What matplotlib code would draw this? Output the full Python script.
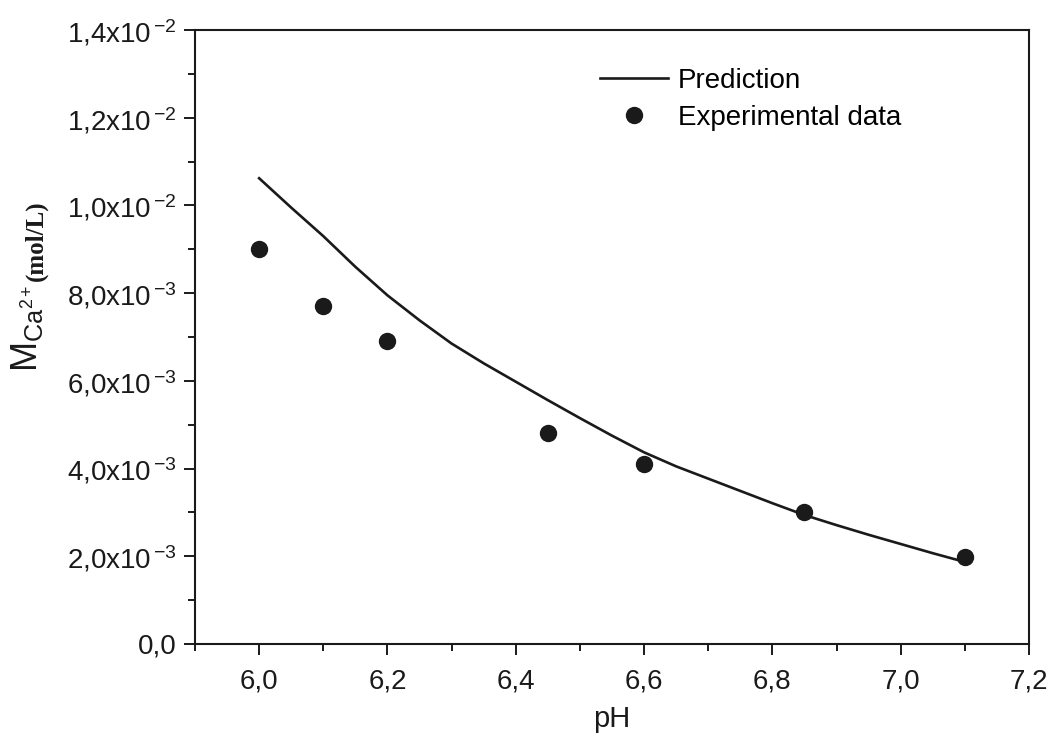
import matplotlib
matplotlib.use("Agg")
import matplotlib.pyplot as plt
from matplotlib.ticker import MultipleLocator, FixedLocator, FixedFormatter

plt.rcParams['font.family'] = ['Liberation Sans', 'DejaVu Sans']
plt.rcParams['mathtext.fontset'] = 'custom'
plt.rcParams['mathtext.rm'] = 'Liberation Serif'
plt.rcParams['mathtext.sf'] = 'Liberation Sans'
plt.rcParams['mathtext.it'] = 'Liberation Sans:italic'

# Prediction curve
pred_ph = [6.0, 6.05, 6.1, 6.15, 6.2, 6.25, 6.3, 6.35, 6.4, 6.45, 6.5, 6.55,
           6.6, 6.65, 6.7, 6.75, 6.8, 6.85, 6.9, 6.95, 7.0, 7.05, 7.1]
pred_m = [0.01062, 0.00995, 0.00930, 0.00860, 0.00795, 0.00738, 0.00685,
          0.00640, 0.00598, 0.00556, 0.00515, 0.00475, 0.00437, 0.00405,
          0.00377, 0.00349, 0.00321, 0.00294, 0.00271, 0.00249, 0.00228,
          0.00207, 0.00187]

# Experimental data
exp_ph = [6.0, 6.1, 6.2, 6.45, 6.6, 6.85, 7.1]
exp_m = [0.0090, 0.00771, 0.00691, 0.00481, 0.00410, 0.00301, 0.00199]

xticks = [6.0, 6.2, 6.4, 6.6, 6.8, 7.0, 7.2]
xtick_labels = ["6,0", "6,2", "6,4", "6,6", "6,8", "7,0", "7,2"]
yticks = [0.0, 0.002, 0.004, 0.006, 0.008, 0.010, 0.012, 0.014]
ytick_labels = ["0,0", r"2,0x10$^{\,\mathsf{-3}}$", r"4,0x10$^{\,\mathsf{-3}}$",
                r"6,0x10$^{\,\mathsf{-3}}$", r"8,0x10$^{\,\mathsf{-3}}$",
                r"1,0x10$^{\,\mathsf{-2}}$", r"1,2x10$^{\,\mathsf{-2}}$",
                r"1,4x10$^{\,\mathsf{-2}}$"]

W, H = 1055, 737
fig = plt.figure(figsize=(W / 100, H / 100), dpi=100)
ax = fig.add_axes([0.1848, 0.1262, 0.9754 - 0.1848, 0.9593 - 0.1262])

col = '#1a1a1a'
ax.plot(pred_ph, pred_m, '-', color=col, lw=1.9, label='Prediction')
ax.plot(exp_ph, exp_m, 'o', color=col, ms=11.5, ls='none', label='Experimental data')

ax.set_xlim(5.9, 7.2)
ax.set_ylim(0, 0.014)
ax.xaxis.set_major_locator(FixedLocator(xticks))
ax.xaxis.set_major_formatter(FixedFormatter(xtick_labels))
ax.xaxis.set_minor_locator(MultipleLocator(0.1))
ax.yaxis.set_major_locator(FixedLocator(yticks))
ax.yaxis.set_major_formatter(FixedFormatter(ytick_labels))
ax.yaxis.set_minor_locator(MultipleLocator(0.001))

ax.tick_params(which='both', direction='out', colors=col, width=1.4,
               top=False, right=False)
ax.tick_params(which='major', length=8, labelsize=20, pad=10)
ax.tick_params(which='minor', length=5)
ax.tick_params(axis='y', which='major', pad=5)
for s in ax.spines.values():
    s.set_linewidth(1.5)
    s.set_color(col)

ax.set_xlabel('pH', fontsize=21, labelpad=7, color=col)

# y label: sans "M_Ca2+" followed by smaller bold serif "(mol/L)"
fig.text(37 / W, 1 - 372 / H, r'M$_{\mathsf{Ca}^{\mathsf{2+}}}$', fontsize=26,
         rotation=90, rotation_mode='anchor', ha='left', va='baseline', color=col)
fig.text(42 / W, 1 - 281 / H, '(mol/L)', fontsize=18, fontweight='bold',
         family='Liberation Serif', rotation=90, rotation_mode='anchor',
         ha='left', va='baseline', color=col)

leg = ax.legend(loc='upper left', bbox_to_anchor=(0.472, 0.957), frameon=False,
                fontsize=20, handlelength=2.45, handletextpad=0.36,
                labelspacing=0.42, borderaxespad=0)

fig.savefig('out.png', dpi=100)
